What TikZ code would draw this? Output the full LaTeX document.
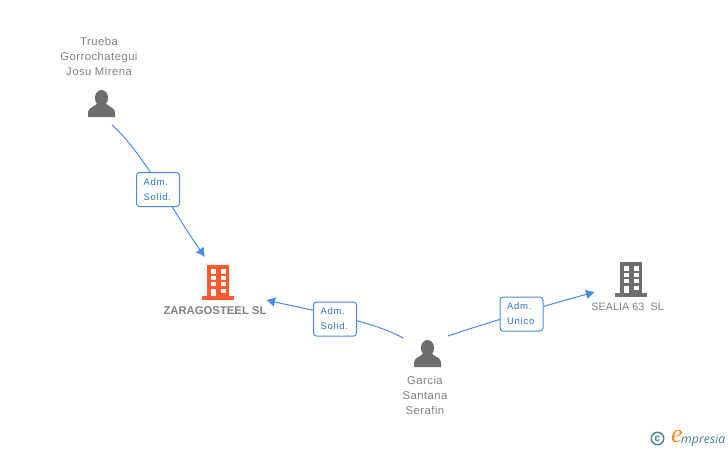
\documentclass[tikz,border=0pt]{standalone}
\usepackage{fontspec}
\setmainfont{Liberation Sans}
\newfontfamily\logofont{Open Sans}
\newfontfamily\logoserif{Liberation Serif}
\usetikzlibrary{arrows.meta}
\definecolor{txtgrey}{HTML}{808080}
\definecolor{icongrey}{HTML}{6E6E6E}
\definecolor{linkblue}{HTML}{4A8BE8}
\definecolor{labelblue}{HTML}{2F72D0}
\definecolor{orangeicon}{HTML}{FF5A30}
\definecolor{logoteal}{HTML}{3F8294}
\definecolor{logoorange}{HTML}{F08A1E}
\tikzset{
  x=1pt,y=-1pt,
  namelabel/.style={text=txtgrey,font=\fontsize{11.3}{15}\selectfont\addfontfeature{LetterSpace=4},align=center,inner sep=0pt},
  companylabel/.style={text=txtgrey,font=\fontsize{10.7}{15}\selectfont\addfontfeature{LetterSpace=1},align=center,inner sep=0pt},
  mainlabel/.style={text=txtgrey,font=\fontsize{11.3}{15}\selectfont\bfseries,align=center,inner sep=0pt},
  rolebox/.style={draw=linkblue,line width=1pt,fill=white,rounded corners=3pt,minimum width=43pt,minimum height=34pt,inner sep=0pt,text width=29pt,align=left,text=labelblue,font=\fontsize{9.5}{15}\selectfont\addfontfeature{LetterSpace=8}},
  link/.style={draw=linkblue,line width=1pt},
  arrowlink/.style={link,-{Latex[length=9pt,width=10pt]}},
  person/.pic={
    \fill[icongrey] (0,0) ellipse (6.6 and 8);
    \fill[icongrey] (-13.5,19) -- (-13.5,14.5) .. controls (-13.5,9.5) and (-8,9.5) .. (-5,6) -- (5,6) .. controls (8,9.5) and (13.5,9.5) .. (13.5,14.5) -- (13.5,19) -- cycle;
  },
  building/.pic={
    \fill[pic actions] (-11,-15) rectangle (11,16);
    \fill[pic actions] (-16,16) rectangle (16,19.5);
    \foreach \wy in {-10.7,-4.3,2} {
      \fill[white] (-7,\wy) rectangle (-2.5,\wy+4.3);
      \fill[white] (3,\wy) rectangle (7.7,\wy+4.3);
    }
    \fill[white] (-7,8.7) rectangle (-2.5,16);
    \fill[white] (3,8.7) rectangle (7.7,13);
  }
}
\begin{document}
\begin{tikzpicture}
\useasboundingbox (0,0) rectangle (728,450);
% free ends
\coordinate (truebaout) at (112,125);
\coordinate (zaragin) at (205,257);
\coordinate (garciaoutl) at (403,338);
\coordinate (zaragright) at (266,300);
\coordinate (garciaoutr) at (448,336);
\coordinate (sealiain) at (595,292);
% connectors
\draw[arrowlink] (truebaout) .. controls (143,152) and (175,215) .. (zaragin);
\draw[arrowlink] (garciaoutl) .. controls (375,322) and (320,312) .. (zaragright);
\draw[arrowlink] (garciaoutr) .. controls (480,325) and (540,307) .. (sealiain);
% role boxes
\node[rolebox] (role1) at (158,189.5) {Adm.\\Solid.};
\node[rolebox] (role2) at (335,319) {Adm.\\Solid.};
\node[rolebox] (role3) at (521.5,314) {Adm.\\Unico};
% icons
\pic at (101.5,98) {person};
\pic at (427.5,348) {person};
\pic[fill=orangeicon] at (218,280) {building};
\pic[fill=icongrey] at (631,277) {building};
% names
\node[namelabel] (trueba) at (99,56.2) {Trueba\\Gorrochategui\\Josu Mirena};
\node[namelabel] (garcia) at (425,395.7) {Garcia\\Santana\\Serafin};
\node[mainlabel] (zaragoza) at (215,310.5) {ZARAGOSTEEL SL};
\node[companylabel] (sealia) at (627.5,307) {SEALIA 63\ \ SL};
% logo
\node[circle,draw=logoteal,line width=1.4pt,minimum size=12.5pt,inner sep=0pt,text=logoteal,font=\fontsize{10}{10}\selectfont\bfseries] (copyr) at (657.5,438.5) {c};
\node[inner sep=0pt,text=logoorange,font=\logoserif\itshape\fontsize{26}{26}\selectfont] (logoe) at (677,436.5) {e};
\node[inner sep=0pt,anchor=west,text=logoteal,font=\logofont\itshape\fontsize{12.3}{12}\selectfont] (logot) at (681,440) {mpresia};
\end{tikzpicture}
\end{document}
